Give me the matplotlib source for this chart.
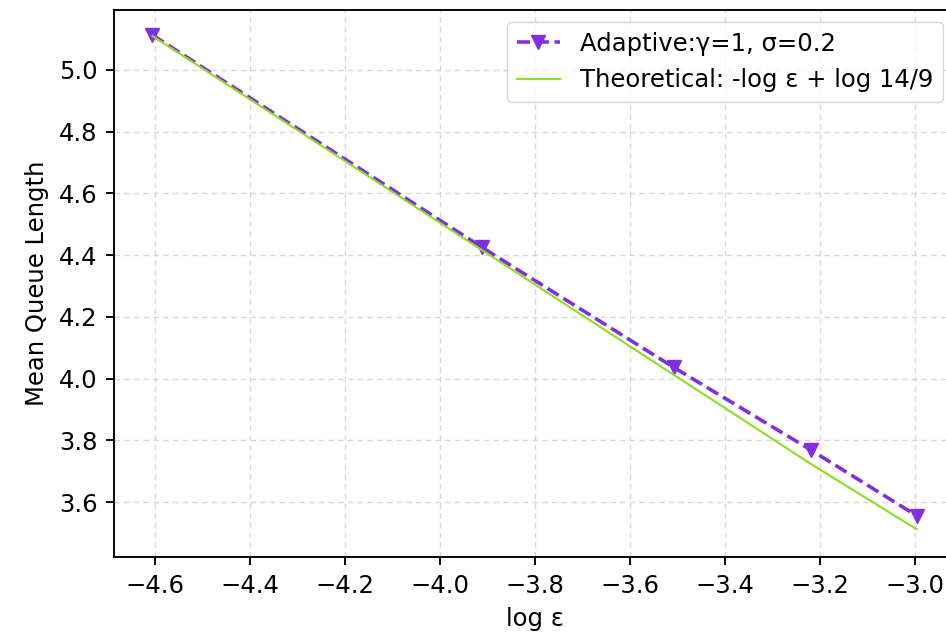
import matplotlib
matplotlib.use("Agg")
import matplotlib.pyplot as plt
import numpy as np

log_eps = [-4.605, -3.912, -3.507, -3.219, -2.996]
adaptive = [5.113, 4.426, 4.036, 3.769, 3.556]
theoretical = [5.110, 4.417, 4.012, 3.724, 3.512]
xticks = [-4.6, -4.4, -4.2, -4.0, -3.8, -3.6, -3.4, -3.2, -3.0]
yticks = [3.6, 3.8, 4.0, 4.2, 4.4, 4.6, 4.8, 5.0]

s = 1.7
plt.rcParams.update({
    'font.family': ['DejaVu Sans'],
    'font.size': 17.5,
    'axes.linewidth': 0.8 * s,
    'xtick.major.width': 0.8 * s,
    'ytick.major.width': 0.8 * s,
    'xtick.major.size': 3.5 * s,
    'ytick.major.size': 3.5 * s,
    'xtick.major.pad': 3.5 * s,
    'ytick.major.pad': 3.5 * s,
    'axes.labelpad': 4 * s,
})

fig = plt.figure(figsize=(9.46, 6.34), dpi=100)
W, H = 946, 634
left, right, top, bottom = 114, 955, 10, 557
ax = fig.add_axes([left / W, 1 - bottom / H, (right - left) / W, (bottom - top) / H])

ax.plot(log_eps, adaptive, linestyle='--', marker='v', color='#7f2ee0',
        linewidth=1.5 * s, markersize=6 * s, label='Adaptive:γ=1, σ=0.2', zorder=3)
ax.plot(log_eps, theoretical, linestyle='-', color='#8fdc2a',
        linewidth=0.9 * s, label='Theoretical: -log ε + log 14/9', zorder=4)

ax.set_xticks(xticks)
ax.set_yticks(yticks)
ax.set_xlim(-4.686, -2.915)
ax.set_ylim(3.422, 5.194)
ax.grid(True, linestyle=(0, (4, 3)), color='#c8c8c8', alpha=0.7, linewidth=1.0)
ax.set_xlabel('log ε')
ax.set_ylabel('Mean Queue Length')
ax.legend(loc='upper right', framealpha=0.8, borderaxespad=0.5, handlelength=1.8)

fig.savefig('out.png', dpi=100)
